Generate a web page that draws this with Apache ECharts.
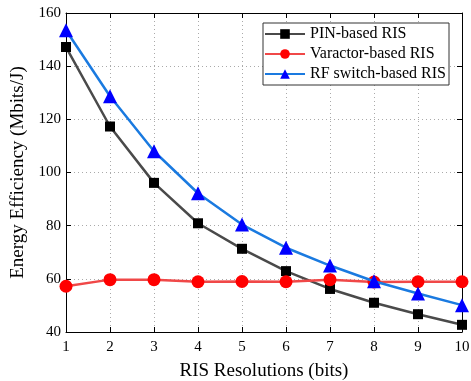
<!DOCTYPE html>
<html>
<head>
<meta charset="utf-8">
<script src="https://cdn.jsdelivr.net/npm/echarts@6/dist/echarts.min.js"></script>
<style>
  html, body { margin: 0; padding: 0; background: #fff; }
  #chart { width: 471px; height: 381px; }
</style>
</head>
<body>
<div id="chart"></div>
<script>
var resolutions = [1, 2, 3, 4, 5, 6, 7, 8, 9, 10];
var pinRis = [147.2, 117.3, 96.1, 80.9, 71.3, 62.9, 56.2, 51.0, 46.7, 42.7];
var varactorRis = [57.2, 59.7, 59.7, 58.9, 59.0, 58.9, 59.7, 58.8, 58.9, 58.9];
var rfSwitchRis = [153.5, 128.7, 108.0, 92.2, 80.4, 71.7, 65.0, 59.1, 54.5, 50.1];

var font = "Liberation Serif";
var myChart = echarts.init(document.getElementById("chart"));

function pairs(ys) {
  return resolutions.map(function (x, i) { return [x, ys[i]]; });
}

var dotted = { show: true, lineStyle: { color: "#aaa", type: [1, 3], width: 1 } };

var option = {
  backgroundColor: "#fff",
  animation: false,
  grid: { left: 66, right: 9, top: 13, bottom: 49, outerBoundsMode: "none", containLabel: false },
  legend: {
    orient: "vertical",
    right: 22,
    top: 23,
    itemWidth: 40,
    itemHeight: 12,
    itemGap: 4,
    padding: [3, 3, 3, 1],
    borderColor: "#333",
    borderWidth: 1,
    backgroundColor: "#fff",
    textStyle: { fontFamily: font, fontSize: 16, color: "#000" },
    data: ["PIN-based RIS", "Varactor-based RIS", "RF switch-based RIS"]
  },
  xAxis: [
    {
      type: "value",
      min: 1,
      max: 10,
      interval: 1,
      name: "RIS Resolutions (bits)",
      nameLocation: "middle",
      nameGap: 30,
      nameTextStyle: { fontFamily: font, fontSize: 19, color: "#000" },
      axisLine: { show: true, onZero: false, lineStyle: { color: "#000", width: 1 } },
      axisTick: { show: true, inside: true, length: 5, lineStyle: { color: "#000" } },
      axisLabel: { fontFamily: font, fontSize: 15, color: "#000", margin: 8 },
      splitLine: dotted
    },
    {
      type: "value",
      position: "top",
      min: 1,
      max: 10,
      interval: 1,
      axisLine: { show: true, onZero: false, lineStyle: { color: "#000", width: 1 } },
      axisTick: { show: true, inside: true, length: 5, lineStyle: { color: "#000" } },
      axisLabel: { show: false },
      splitLine: { show: false }
    }
  ],
  yAxis: [
    {
      type: "value",
      min: 40,
      max: 160,
      interval: 20,
      name: "Energy Efficiency (Mbits/J)",
      nameLocation: "middle",
      nameGap: 34,
      nameTextStyle: { fontFamily: font, fontSize: 19, color: "#000" },
      axisLine: { show: true, onZero: false, lineStyle: { color: "#000", width: 1 } },
      axisTick: { show: true, inside: true, length: 5, lineStyle: { color: "#000" } },
      axisLabel: { fontFamily: font, fontSize: 15, color: "#000", margin: 5 },
      splitLine: dotted
    },
    {
      type: "value",
      position: "right",
      min: 40,
      max: 160,
      interval: 20,
      axisLine: { show: true, onZero: false, lineStyle: { color: "#000", width: 1 } },
      axisTick: { show: true, inside: true, length: 5, lineStyle: { color: "#000" } },
      axisLabel: { show: false },
      splitLine: { show: false }
    }
  ],
  series: [
    {
      name: "PIN-based RIS",
      type: "line",
      data: pairs(pinRis),
      symbol: "rect",
      symbolSize: 10,
      lineStyle: { color: "#4a4a4a", width: 2.5 },
      itemStyle: { color: "#000" },
      z: 3
    },
    {
      name: "Varactor-based RIS",
      type: "line",
      data: pairs(varactorRis),
      symbol: "circle",
      symbolSize: 13,
      lineStyle: { color: "#f04848", width: 2.5 },
      itemStyle: { color: "#ff0000" },
      z: 4
    },
    {
      name: "RF switch-based RIS",
      type: "line",
      data: pairs(rfSwitchRis),
      symbol: "triangle",
      symbolSize: 14,
      lineStyle: { color: "#1a7ae0", width: 2.5 },
      itemStyle: { color: "#0000ff" },
      z: 5
    }
  ]
};

myChart.setOption(option);
</script>
</body>
</html>
